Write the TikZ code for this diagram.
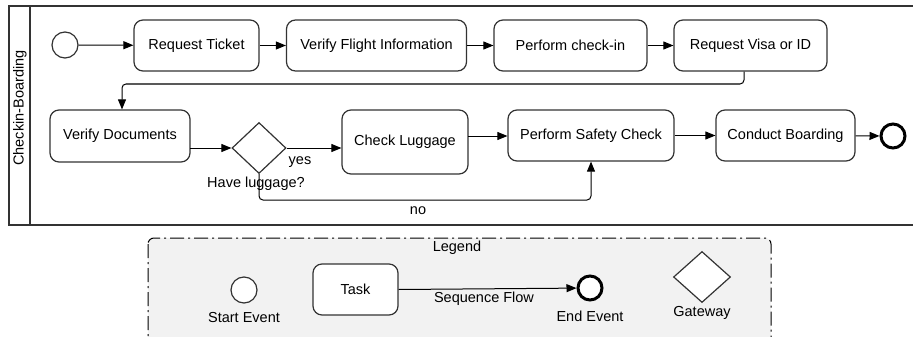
\documentclass[tikz,border=0pt]{standalone}
\usepackage{fontspec}
\setmainfont{Liberation Sans}
\usetikzlibrary{arrows.meta,shapes.geometric}
\definecolor{lc}{HTML}{333333}
\definecolor{legfill}{HTML}{F2F2F2}
\newcommand{\tf}{\fontsize{14.5}{16}\selectfont}
\tikzset{
  task/.style={draw=lc, line width=1.2pt, rounded corners=9pt, fill=white, font=\tf, inner sep=2pt},
  startev/.style={circle, draw=lc, line width=1.2pt, fill=white, minimum size=26pt, inner sep=0pt},
  endev/.style={circle, draw=black, line width=3pt, fill=white, minimum size=24pt, inner sep=0pt},
  gateway/.style={diamond, draw=lc, line width=1.2pt, fill=white, minimum width=54pt, minimum height=51pt, inner sep=0pt},
  flow/.style={draw=black, line width=1pt, -{Triangle[length=10pt,width=8pt]}, rounded corners=4pt},
  lbl/.style={font=\tf, inner sep=0pt, text=black},
  legendbox/.style={draw=black, line width=1pt, fill=legfill, rounded corners=6pt, dash pattern=on 14pt off 4pt on 2pt off 4pt}
}
\begin{document}
\begin{tikzpicture}[x=1pt,y=-1pt]
\useasboundingbox (0,0) rectangle (913,337);
\clip (0,0) rectangle (913,337);
% pool
\draw[draw=lc, line width=1.4pt] (9,6) rectangle (930,225);
\draw[draw=lc, line width=1.4pt] (30,6) -- (30,225);
\node[lbl, rotate=90] (lane) at (20,108) {Checkin-Boarding};
% row 1
\node[startev] (start) at (65,45) {};
\node[task, minimum width=125pt, minimum height=51pt] (rt) at (196.5,45.5) {Request Ticket};
\node[task, minimum width=180pt, minimum height=51pt] (vfi) at (376.5,45.5) {Verify Flight Information};
\node[task, minimum width=153pt, minimum height=51pt] (pci) at (570.5,45.5) {Perform check-in};
\node[task, minimum width=153pt, minimum height=51pt] (rvi) at (750.5,45.5) {Request Visa or ID};
% row 2
\node[task, minimum width=140pt, minimum height=52pt] (vd) at (120,136) {Verify Documents};
\node[gateway] (gw) at (259,148) {};
\node[task, minimum width=126pt, minimum height=64pt] (cl) at (405,142) {Check Luggage};
\node[task, minimum width=166pt, minimum height=51pt] (psc) at (591,135.5) {Perform Safety Check};
\node[task, minimum width=139pt, minimum height=51pt] (cb) at (785.5,135.5) {Conduct Boarding};
\node[endev] (end) at (893,136) {};
\node[lbl] (yes) at (300,162) {yes};
\node[lbl] (hl) at (256,184) {Have luggage?};
\node[lbl] (no) at (418,211) {no};
% flows
\draw[flow] (start) -- (rt);
\draw[flow] (rt) -- (vfi);
\draw[flow] (vfi) -- (pci);
\draw[flow] (pci) -- (rvi);
\coordinate (c1) at (744,84);
\coordinate (c2) at (122,84);
\draw[flow] (rvi.south -| c1) -- (c1) -- (c2) -- (vd.north -| c2);
\coordinate (v1) at (190,148);
\draw[flow] (v1) -- (gw.west);
\draw[flow] (gw.east) -- (gw.east -| cl.west);
\coordinate (l1) at (468,136);
\draw[flow] (l1) -- (l1 -| psc.west);
\draw[flow] (psc) -- (cb);
\draw[flow] (cb) -- (end);
\coordinate (n1) at (591,200);
\draw[flow] (gw.south) |- (n1) -- (psc.south);
% legend
\draw[legendbox] (148,238) rectangle (771,360);
\node[lbl] (legtitle) at (457,248) {Legend};
\node[startev] (lstart) at (244,290) {};
\node[lbl] (lstartl) at (244,318) {Start Event};
\node[task, minimum width=85pt, minimum height=51pt] (ltask) at (355.5,289.5) {Task};
\node[endev] (lend) at (590,288) {};
\draw[flow] (ltask.east) -- (lend);
\node[lbl] (lseq) at (484,299) {Sequence Flow};
\node[lbl] (lendl) at (590,316) {End Event};
\node[gateway, minimum width=57pt] (lgw) at (702,277) {};
\node[lbl] (lgwl) at (702,313) {Gateway};
\end{tikzpicture}
\end{document}
